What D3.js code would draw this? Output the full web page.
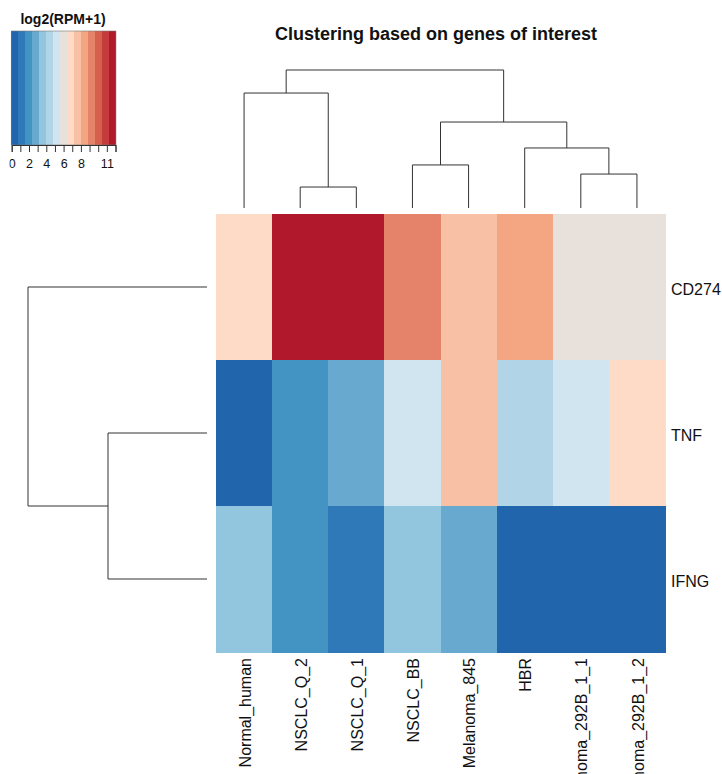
<!DOCTYPE html>
<html>
<head>
<meta charset="utf-8">
<script src="https://cdn.jsdelivr.net/npm/d3@7"></script>
<style>
  html, body { margin: 0; padding: 0; background: #fff; }
  svg { display: block; font-family: "Liberation Sans", Arial, Helvetica, sans-serif; }
</style>
</head>
<body>
<svg id="chart" width="722" height="774"></svg>
<script>
// ---------- data ----------
const samples = ["Normal_human", "NSCLC_Q_2", "NSCLC_Q_1", "NSCLC_BB", "Melanoma_845", "HBR", "Melanoma_292B_1_1", "Melanoma_292B_1_2"];
const genes = ["CD274", "TNF", "IFNG"];
const valuesCD274 = [6.9, 11.7, 11.7, 9.3, 7.7, 8.5, 6.0, 6.0];
const valuesTNF   = [0.4, 2.0, 2.8, 5.2, 7.7, 4.4, 5.2, 6.9];
const valuesIFNG  = [3.6, 2.0, 1.2, 3.6, 2.8, 0.4, 0.4, 0.4];
const paletteColors = ["#2166AC","#3079B8","#4393C3","#67A9CF","#92C5DE","#B1D4E7","#D1E5F0","#E7E0DB",
                       "#FDDBC7","#F8C0A5","#F4A582","#E5836A","#D6604D","#C43C3C","#B2182B"];
const legendTicks = [0,1,2,3,4,5,6,7,8,9,10,11,12];
const legendTickLabels = [0, 2, 4, 6, 8, 11];
// hclust-style merges: negative = leaf index, positive = merge number (1-based)
const colMerges = [[-2, -3, 0.152], [-7, -8, 0.246], [-4, -5, 0.312], [-6, 2, 0.435], [3, 4, 0.623], [-1, 1, 0.833], [6, 5, 1.0]];
const rowMerges = [[-2, -3, 0.553], [-1, 1, 1.0]];

const matrix = [valuesCD274, valuesTNF, valuesIFNG];

// ---------- layout ----------
const svg = d3.select("#chart");
const hm = { x0: 216, x1: 665, y0: 214, y1: 652 };

const xBand = d3.scaleBand().domain(samples).range([hm.x0, hm.x1]);
const yBand = d3.scaleBand().domain(genes).range([hm.y0, hm.y1]);
const vmin = -0.05, vmax = 12.05;
const color = d3.scaleQuantize().domain([vmin, vmax]).range(paletteColors);

// ---------- heatmap ----------
const cells = [];
genes.forEach((g, i) => samples.forEach((s, j) => cells.push({ g, s, v: matrix[i][j] })));
svg.append("g").selectAll("rect").data(cells).join("rect")
  .attr("x", d => xBand(d.s))
  .attr("y", d => yBand(d.g))
  .attr("width", xBand.bandwidth() + 0.5)
  .attr("height", yBand.bandwidth() + 0.5)
  .attr("fill", d => color(d.v))
  .attr("shape-rendering", "crispEdges");

// ---------- dendrograms ----------
function layoutMerges(merges, leafPos) {
  const pos = [], hgt = [];
  const get = k => k < 0 ? [leafPos(-k - 1), 0] : [pos[k - 1], hgt[k - 1]];
  const segs = [];
  merges.forEach(([a, b, h]) => {
    const [pa, ha] = get(a), [pb, hb] = get(b);
    segs.push({ pa, ha, pb, hb, h });
    pos.push((pa + pb) / 2);
    hgt.push(h);
  });
  return segs;
}
const dendroColor = "#333";

// column dendrogram (top)
const colH = d3.scaleLinear().domain([0, 1]).range([208, 70]);
const colSegs = layoutMerges(colMerges, i => xBand(samples[i]) + xBand.bandwidth() / 2);
svg.append("g").selectAll("path").data(colSegs).join("path")
  .attr("fill", "none").attr("stroke", dendroColor).attr("stroke-width", 1)
  .attr("d", d => `M${d.pa},${colH(d.ha)}V${colH(d.h)}H${d.pb}V${colH(d.hb)}`);

// row dendrogram (left)
const rowH = d3.scaleLinear().domain([0, 1]).range([207, 28]);
const rowSegs = layoutMerges(rowMerges, i => yBand(genes[i]) + yBand.bandwidth() / 2);
svg.append("g").selectAll("path").data(rowSegs).join("path")
  .attr("fill", "none").attr("stroke", dendroColor).attr("stroke-width", 1)
  .attr("d", d => `M${rowH(d.ha)},${d.pa}H${rowH(d.h)}V${d.pb}H${rowH(d.hb)}`);

// ---------- labels ----------
svg.append("g").selectAll("text").data(samples).join("text")
  .attr("transform", d => `translate(${xBand(d) + xBand.bandwidth() / 2 + 1},658) rotate(-90)`)
  .attr("text-anchor", "end")
  .attr("dy", "0.35em")
  .attr("font-size", "16px")
  .attr("fill", "#111")
  .text(d => d);

svg.append("g").selectAll("text").data(genes).join("text")
  .attr("x", 671)
  .attr("y", d => yBand(d) + yBand.bandwidth() / 2 + 2)
  .attr("dy", "0.35em")
  .attr("font-size", "16px")
  .attr("fill", "#111")
  .text(d => d);

svg.append("text")
  .attr("x", 436).attr("y", 40)
  .attr("text-anchor", "middle")
  .attr("font-size", "18px").attr("font-weight", "bold")
  .attr("fill", "#111")
  .text("Clustering based on genes of interest");

// ---------- colour key ----------
const key = { y0: 31, y1: 145 };
const keyX = d3.scaleLinear().domain([0, 12]).range([11.7, 115.5]);
const bandW = (vmax - vmin) / paletteColors.length;
svg.append("g").selectAll("rect").data(paletteColors).join("rect")
  .attr("x", (c, i) => keyX(vmin + i * bandW))
  .attr("y", key.y0)
  .attr("width", (c, i) => keyX(vmin + (i + 1) * bandW) - keyX(vmin + i * bandW) + 0.3)
  .attr("height", key.y1 - key.y0)
  .attr("fill", c => c)
  .attr("shape-rendering", "crispEdges");
svg.append("rect")
  .attr("x", keyX(vmin)).attr("y", key.y0)
  .attr("width", keyX(vmax) - keyX(vmin)).attr("height", key.y1 - key.y0)
  .attr("fill", "none").attr("stroke", "#777").attr("stroke-width", 0.6);

svg.append("text")
  .attr("x", 63).attr("y", 24)
  .attr("text-anchor", "middle")
  .attr("font-size", "14px").attr("font-weight", "bold")
  .attr("fill", "#111")
  .text("log2(RPM+1)");

svg.append("defs").append("clipPath").attr("id", "keyclip")
  .append("rect").attr("x", 9.5).attr("y", 0).attr("width", 200).attr("height", 200);

const axis = d3.axisBottom(keyX).tickValues(legendTicks).tickSize(7)
  .tickFormat(d => legendTickLabels.includes(d) ? d : "");
const ax = svg.append("g").attr("transform", `translate(0,${key.y1})`)
  .attr("clip-path", "url(#keyclip)").call(axis);
ax.select(".domain").attr("stroke", "#333");
ax.selectAll(".tick line").attr("stroke", "#333");
ax.selectAll(".tick text").attr("font-size", "12.5px").attr("fill", "#111")
  .attr("font-family", "Liberation Sans, Arial, sans-serif").attr("y", 14);
</script>
</body>
</html>
